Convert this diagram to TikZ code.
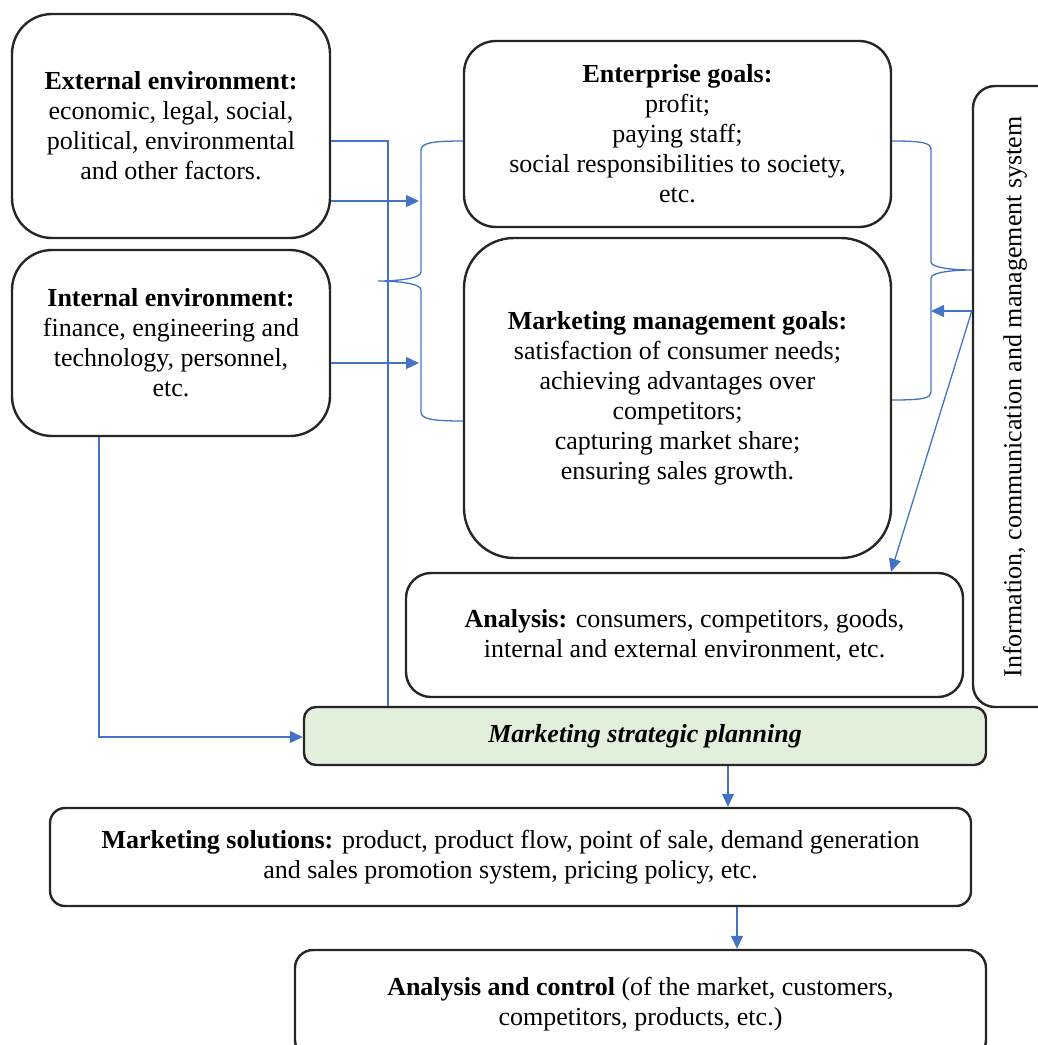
\documentclass[tikz,border=0pt]{standalone}
\usepackage{fontspec}
\setmainfont{Liberation Serif}
\usetikzlibrary{arrows.meta}
\definecolor{lnblue}{HTML}{4472C4}
\definecolor{plangreen}{HTML}{E2EFDA}
\begin{document}
\begin{tikzpicture}[x=1pt,y=-1pt,
  box/.style={draw=black!85, line width=2.4pt, align=center, inner sep=0pt,
    font=\fontsize{26}{30}\selectfont},
  conn/.style={draw=lnblue, line width=1.3pt},
  arr/.style={conn, -{Triangle[length=13pt,width=12pt]}}]
\useasboundingbox (0,0) rectangle (1038,1045);

\node[box, rounded corners=40pt, minimum width=318pt, minimum height=224pt] (ext) at (171,126)
  {\textbf{External environment:}\\economic, legal, social,\\political, environmental\\and other factors.};
\node[box, rounded corners=40pt, minimum width=318pt, minimum height=186pt] (int) at (171,343)
  {\textbf{Internal environment:}\\finance, engineering and\\technology, personnel,\\etc.};
\node[box, rounded corners=32pt, minimum width=427pt, minimum height=186pt] (ent) at (677.5,134)
  {\textbf{Enterprise goals:}\\profit;\\paying staff;\\social responsibilities to society,\\etc.};
\node[box, rounded corners=50pt, minimum width=427pt, minimum height=320pt] (mgmt) at (677.5,398)
  {\textbf{Marketing management goals:}\\satisfaction of consumer needs;\\achieving advantages over\\competitors;\\capturing market share;\\ensuring sales growth.};
\node[box, rounded corners=22pt, minimum width=87pt, minimum height=621pt] (info) at (1016.5,396.5) {};
\node[rotate=90, inner sep=0pt, font=\fontsize{26}{30}\selectfont] (infotext) at (1015,397)
  {Information, communication and management system};
\node[box, rounded corners=25pt, minimum width=557pt, minimum height=124pt] (anal) at (684.5,635)
  {\textbf{Analysis:} consumers, competitors, goods,\\internal and external environment, etc.};
\node[box, fill=plangreen, rounded corners=12pt, minimum width=682pt, minimum height=58pt] (plan) at (645,736)
  {\textbf{\textit{Marketing strategic planning}}};
\node[box, rounded corners=15pt, minimum width=921pt, minimum height=98pt] (sol) at (510.5,857)
  {\textbf{Marketing solutions:} product, product flow, point of sale, demand generation\\and sales promotion system, pricing policy, etc.};
\node[box, rounded corners=18pt, minimum width=691pt, minimum height=108pt] (ctrl) at (640.5,1004)
  {\textbf{Analysis and control} (of the market, customers,\\competitors, products, etc.)};

% coordinates for connectors
\coordinate (lbtip) at (378,281);
\coordinate (rbtip) at (info.west |- 0,270);
\coordinate (infoarr) at (info.west |- 0,311);

% external to planning
\draw[conn] (ext.east |- 0,141) -- (388,141) -- (plan.north -| 388,0);
% arrows into left brace
\draw[arr] (ext.east |- 0,201) -- (419,201);
\draw[arr] (int.east |- 0,363) -- (419,363);
% left brace
\draw[conn] (ent.west |- 0,141) .. controls (432,141) and (421,143) .. (421,150) -- (421,272)
  .. controls (421,279) and (395,281) .. (lbtip)
  .. controls (395,281) and (421,283) .. (421,290) -- (421,412)
  .. controls (421,419) and (432,421) .. (mgmt.west |- 0,421);
% right brace
\draw[conn] (ent.east |- 0,141) .. controls (924,141) and (931,143) .. (931,150) -- (931,262)
  .. controls (931,268) and (955,270) .. (rbtip)
  .. controls (955,270) and (931,272) .. (931,278) -- (931,392)
  .. controls (931,398) and (924,400) .. (mgmt.east |- 0,400);
% info arrows
\draw[arr] (infoarr) -- (931,311);
\draw[arr] (infoarr) -- (anal.north -| 891,0);
% internal to planning
\draw[arr] (int.south -| 99,0) -- (99,737) -- (plan.west |- 0,737);
% planning to solutions to control
\draw[arr] (plan.south -| 728,0) -- (sol.north -| 728,0);
\draw[arr] (sol.south -| 737,0) -- (ctrl.north -| 737,0);
\end{tikzpicture}
\end{document}
